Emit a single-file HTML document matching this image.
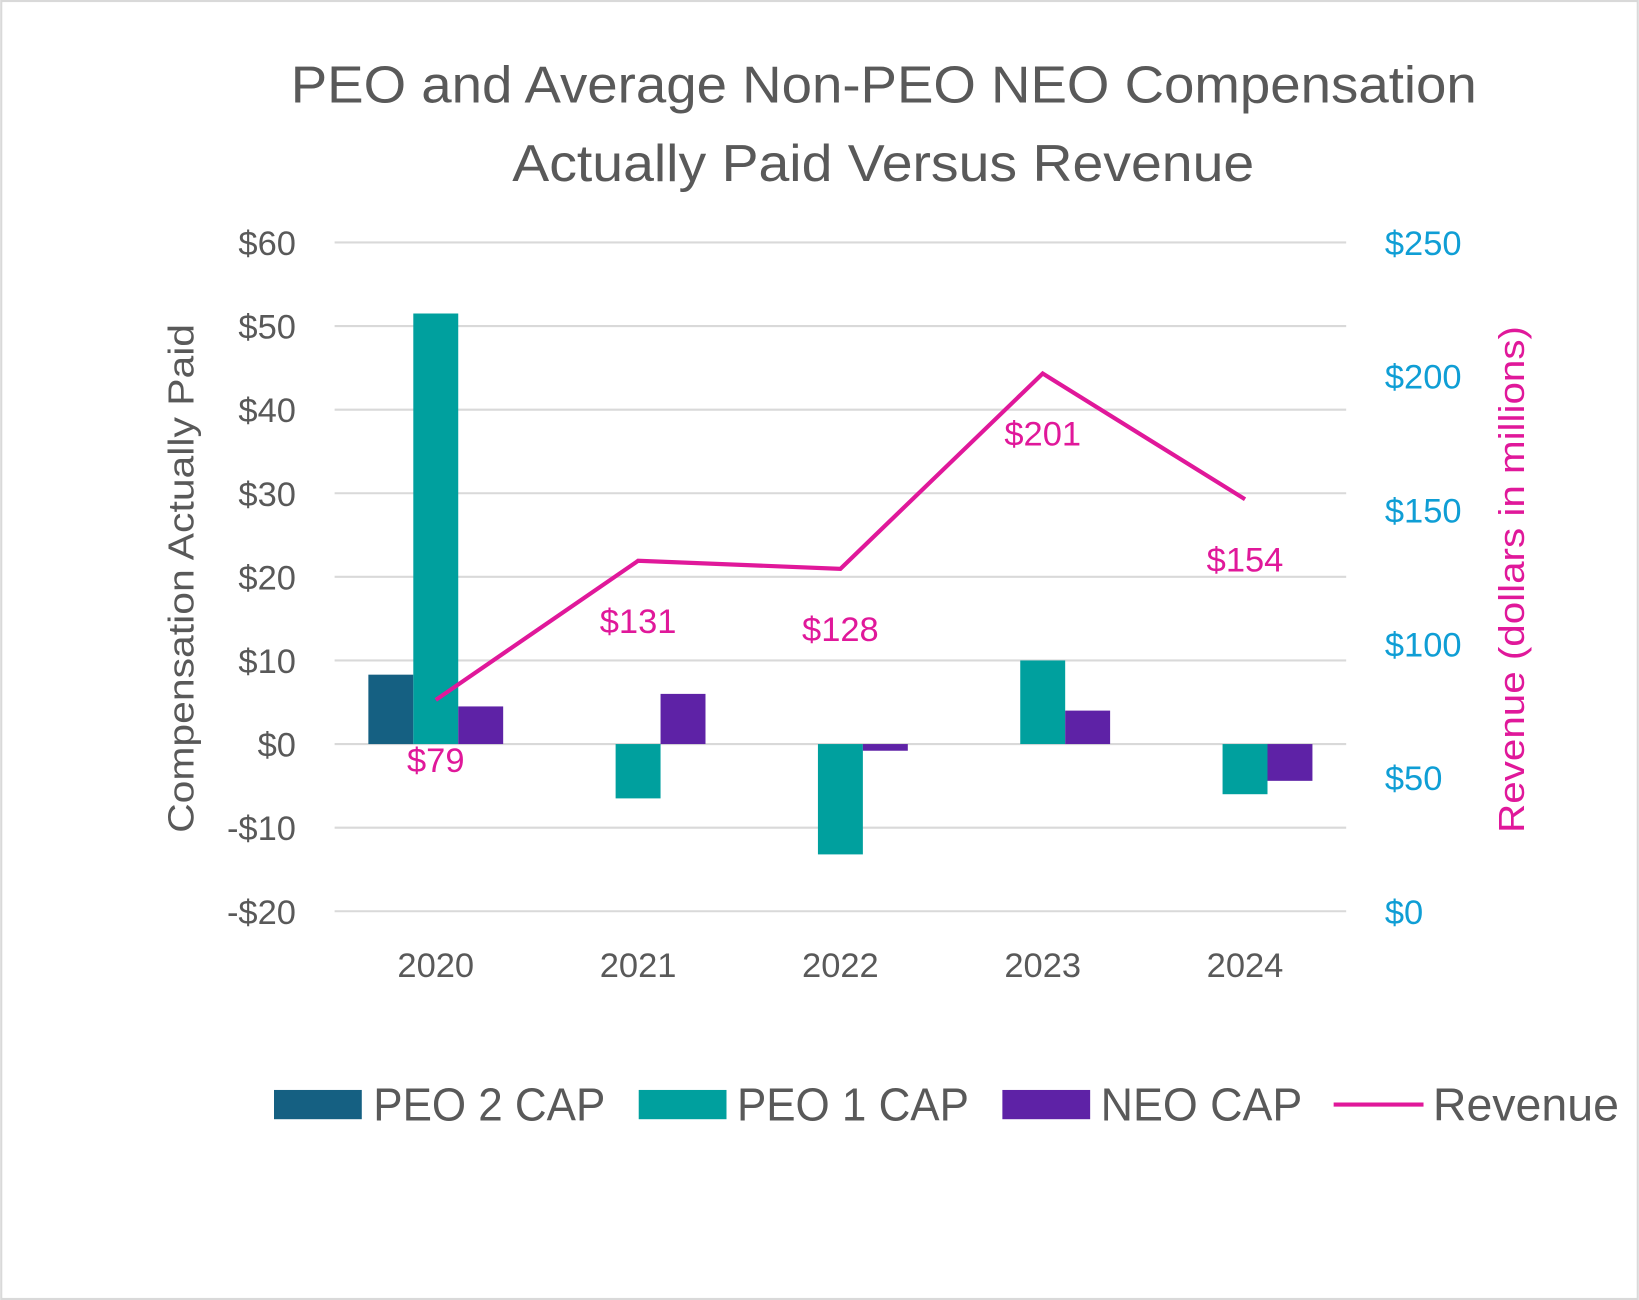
<!DOCTYPE html>
<html><head><meta charset="utf-8"><style>
html,body{margin:0;padding:0;background:#fff;}
svg{display:block;font-family:"Liberation Sans",sans-serif;}
</style></head><body>
<svg id="chart" width="1639" height="1300" viewBox="0 0 1568 1244" xmlns="http://www.w3.org/2000/svg">
<rect x="1" y="1" width="1566" height="1242" fill="#fff" stroke="#d9d9d9" stroke-width="2"/>
<text x="278" y="98" textLength="1135" lengthAdjust="spacingAndGlyphs" font-size="50" fill="#595959">PEO and Average Non-PEO NEO Compensation</text>
<text x="490" y="173" textLength="710" lengthAdjust="spacingAndGlyphs" font-size="50" fill="#595959">Actually Paid Versus Revenue</text>
<g id="grid"></g>
<g id="bars"></g>
<g id="line"></g>
<text transform="translate(185,797) rotate(-90)" textLength="487" lengthAdjust="spacingAndGlyphs" font-size="35" fill="#595959">Compensation Actually Paid</text>
<text transform="translate(1458,797) rotate(-90)" textLength="485" lengthAdjust="spacingAndGlyphs" font-size="35" fill="#E0189A">Revenue (dollars in millions)</text>
<g>
<rect x="262" y="1043" width="84" height="28" fill="#156082"/>
<text x="357" y="1072" textLength="222" lengthAdjust="spacingAndGlyphs" font-size="44" fill="#595959">PEO 2 CAP</text>
<rect x="611" y="1043" width="84" height="28" fill="#00A09E"/>
<text x="705" y="1072" textLength="222" lengthAdjust="spacingAndGlyphs" font-size="44" fill="#595959">PEO 1 CAP</text>
<rect x="959" y="1043" width="84" height="28" fill="#5E22A6"/>
<text x="1053" y="1072" textLength="193" lengthAdjust="spacingAndGlyphs" font-size="44" fill="#595959">NEO CAP</text>
<line x1="1276" y1="1057" x2="1362" y2="1057" stroke="#E0189A" stroke-width="4"/>
<text x="1371" y="1072" textLength="178" lengthAdjust="spacingAndGlyphs" font-size="44" fill="#595959">Revenue</text>
</g>
</svg>
<script>
const years = ["2020","2021","2022","2023","2024"];
const peo2 = [8.3, null, null, null, null];
const peo1 = [51.5, -6.5, -13.2, 10, -6];
const neo = [4.5, 6, -0.8, 4, -4.4];
const revenue = [79, 131, 128, 201, 154];
const leftTicks = [60, 50, 40, 30, 20, 10, 0, -10, -20];
const rightTicks = [250, 200, 150, 100, 50, 0];

const NS = "http://www.w3.org/2000/svg";
const X0 = 320, X1 = 1288, Y0 = 232, Y1 = 872;
const yL = v => Y1 - (v + 20) / 80 * (Y1 - Y0);
const yR = v => Y1 - v / 250 * (Y1 - Y0);
const step = (X1 - X0) / years.length;
const xC = i => X0 + step * (i + 0.5);
const bw = 43;
function mk(tag, attrs, parent){const e=document.createElementNS(NS,tag);for(const k in attrs)e.setAttribute(k,attrs[k]);parent.appendChild(e);return e;}
const grid = document.getElementById('grid'), bars = document.getElementById('bars'), lineG = document.getElementById('line');
leftTicks.forEach(t=>{
  const l = mk('line',{x1:X0,x2:X1,y1:yL(t),y2:yL(t),stroke:'#d9d9d9','stroke-width':2},grid);
  
  
  const tx = mk('text',{x:283,y:yL(t)+12,'text-anchor':'end','font-size':33,fill:'#595959'},grid);
  tx.textContent = (t<0?'-$':'$')+Math.abs(t);
  
  
});
rightTicks.forEach(t=>{
  const tx = mk('text',{x:1325,y:yR(t)+12,'font-size':33,fill:'#0F9ED5'},grid);
  tx.textContent = '$'+t;
  
  
});
years.forEach((y,i)=>{
  const tx = mk('text',{x:xC(i),y:935,'text-anchor':'middle','font-size':33,fill:'#595959'},grid);
  tx.textContent = y;
  
  
});
const series = [[peo2,'#156082',-1.5,'bar-peo2'],[peo1,'#00A09E',-0.5,'bar-peo1'],[neo,'#5E22A6',0.5,'bar-neo']];
series.forEach(([arr,col,off,name])=>{
  arr.forEach((v,i)=>{
    if(v===null) return;
    const a=yL(v), b=yL(0);
    const r = mk('rect',{x:xC(i)+off*bw,y:Math.min(a,b),width:bw,height:Math.abs(b-a),fill:col},bars);
    
    
  });
});
const pts = revenue.map((v,i)=>xC(i)+','+yR(v)).join(' ');
const pl = mk('polyline',{points:pts,fill:'none',stroke:'#E0189A','stroke-width':4},lineG);


revenue.forEach((v,i)=>{
  const tx = mk('text',{x:xC(i),y:yR(v)+69,'text-anchor':'middle','font-size':33,fill:'#E0189A'},lineG);
  tx.textContent = '$'+v;
  
  
});
</script>
</body></html>
